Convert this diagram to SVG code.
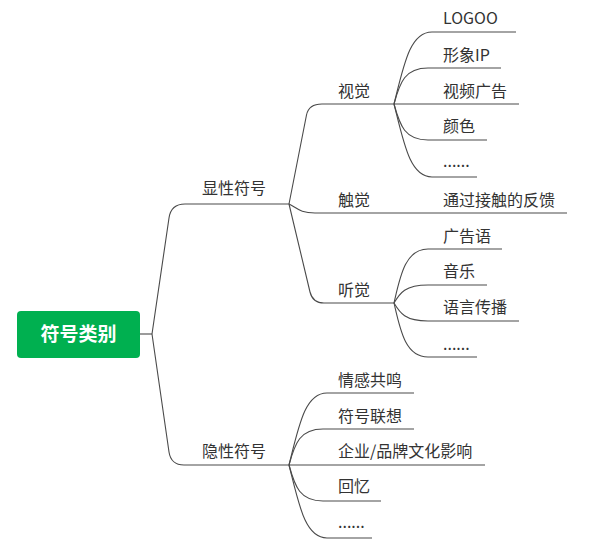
<svg xmlns="http://www.w3.org/2000/svg" width="598" height="556" viewBox="0 0 598 556">
<style>
.l{fill:none;stroke:#4a4a4a;stroke-width:1.1}
.t{font-family:"Noto Sans CJK SC","Noto Sans",sans-serif;font-size:16px;fill:#333}
.r{font-family:"Noto Sans CJK SC","Noto Sans",sans-serif;font-size:19px;font-weight:bold;fill:#fff}
</style>
<rect width="598" height="556" fill="#fff"/>
<g id="connectors">
<path class="l" d="M140,334 L152,334"/>
<path class="l" d="M152,334 L169,218 Q171,204 185,204 L289,204"/>
<path class="l" d="M152,334 L169,452 Q171,465 184,465 L289,465"/>
<path class="l" d="M289,204 L306.5,115 Q308.7,104 322,104 L394,104"/>
<path class="l" d="M289,204 C297,208 300,213 315,213 L394,213"/>
<path class="l" d="M289,204 L310,292 Q312.7,303 324,303 L394,303"/>
<path class="l" d="M394,104 C404,64 410,32 432,32 L516,32"/>
<path class="l" d="M394,104 C400,82 405,68 428,68 L501,68"/>
<path class="l" d="M394,104 L519,104"/>
<path class="l" d="M394,104 C400,126 405,140 428,140 L487,140"/>
<path class="l" d="M394,104 C404,144 410,177 432,177 L477,177"/>
<path class="l" d="M394,213 L567,213"/>
<path class="l" d="M394,303 C400,277 405,249 428,249 L502,249"/>
<path class="l" d="M394,303 C400,293 405,285 428,285 L487,285"/>
<path class="l" d="M394,303 C400,313 405,321 428,321 L519,321"/>
<path class="l" d="M394,303 C400,329 405,357 428,357 L477,357"/>
<path class="l" d="M289,465 C299,425 305,393 327,393 L414,393"/>
<path class="l" d="M289,465 C295,443 300,429 323,429 L414,429"/>
<path class="l" d="M289,465 L485,465"/>
<path class="l" d="M289,465 C295,487 300,501 323,501 L381,501"/>
<path class="l" d="M289,465 C299,505 305,538 327,538 L372,538"/>
</g>
<g id="root"><rect x="17" y="311" width="123" height="47" rx="4" fill="#00b050"/><text class="r" x="78.5" y="341" text-anchor="middle">符号类别</text></g>
<g id="n-xianxing"><text class="t" x="202" y="194">显性符号</text></g>
<g id="n-yinxing"><text class="t" x="202" y="457">隐性符号</text></g>
<g id="n-shijue"><text class="t" x="338" y="97">视觉</text></g>
<g id="n-chujue"><text class="t" x="338" y="206">触觉</text></g>
<g id="n-tingjue"><text class="t" x="338" y="296">听觉</text></g>
<g id="n-logo"><text class="t" x="443" y="24">LOGOO</text></g>
<g id="n-ip"><text class="t" x="443" y="61">形象IP</text></g>
<g id="n-video"><text class="t" x="443" y="97">视频广告</text></g>
<g id="n-color"><text class="t" x="443" y="132">颜色</text></g>
<g id="n-more1"><text class="t" x="443" y="167">......</text></g>
<g id="n-touch"><text class="t" x="443" y="206">通过接触的反馈</text></g>
<g id="n-slogan"><text class="t" x="443" y="242">广告语</text></g>
<g id="n-music"><text class="t" x="443" y="277">音乐</text></g>
<g id="n-lang"><text class="t" x="443" y="313">语言传播</text></g>
<g id="n-more2"><text class="t" x="443" y="350">......</text></g>
<g id="n-emotion"><text class="t" x="338" y="386">情感共鸣</text></g>
<g id="n-assoc"><text class="t" x="338" y="422">符号联想</text></g>
<g id="n-culture"><text class="t" x="338" y="457">企业/品牌文化影响</text></g>
<g id="n-memory"><text class="t" x="338" y="492">回忆</text></g>
<g id="n-more3"><text class="t" x="338" y="528">......</text></g>
</svg>
